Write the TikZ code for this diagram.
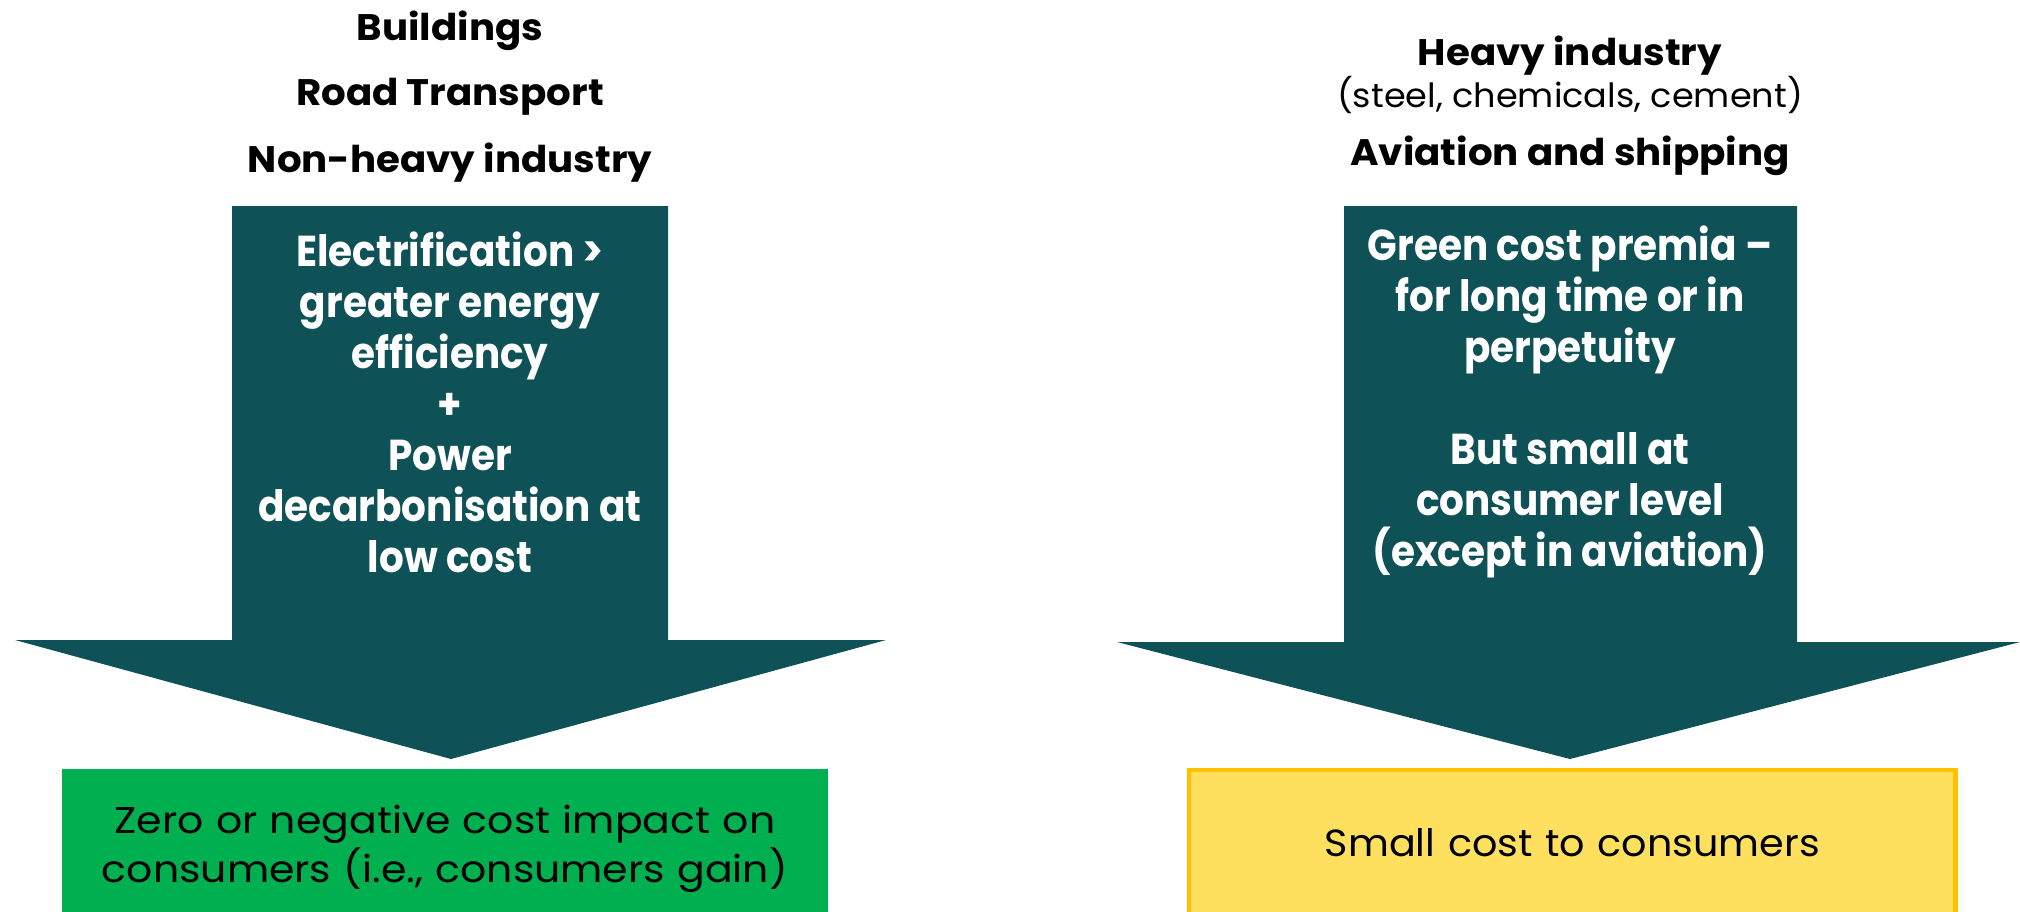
\documentclass[tikz,border=0pt]{standalone}
\usepackage{fontspec}
\setmainfont{Poppins}
\newfontfamily\widefont[FakeStretch=1.05]{Poppins}
\newfontfamily\boxfont[FakeStretch=1.1]{Poppins}
\newfontfamily\narrowfont[FakeStretch=0.9]{Poppins}
\usetikzlibrary{positioning}
\definecolor{arrowteal}{HTML}{0E5157}
\definecolor{gaingreen}{HTML}{00B050}
\definecolor{costyellow}{HTML}{FEDF5E}
\definecolor{costborder}{HTML}{FFC000}
\tikzset{
  sectortitle/.style = {anchor=base, inner sep=0pt,
    font=\widefont\bfseries\fontsize{10.5}{12}\selectfont},
  sectornote/.style = {anchor=base, inner sep=0pt,
    font=\widefont\fontsize{9.5}{11}\selectfont},
  arrowbody/.style = {fill=arrowteal, draw=none},
  arrowtext/.style = {align=center, text=white, inner sep=0pt,
    font=\narrowfont\bfseries\fontsize{12.3}{14.5}\selectfont},
  outcome/.style = {align=center, inner sep=0pt, anchor=north west,
    text width=7.66cm, font=\widefont\fontsize{10.75}{13.4}\selectfont}
}

\begin{document}
\begin{tikzpicture}[x=0.01cm, y=-0.01cm]
\useasboundingbox (0,0) rectangle (2020,911);
% sectors, left
\node [sectortitle] (bld) at (450,40) {Buildings};
\node [sectortitle] (road) at (450,105) {Road Transport};
\node [sectortitle] (nonheavy) at (450,172) {Non-heavy industry};
% sectors, right
\node [sectortitle] (heavy) at (1570,65) {Heavy industry};
\node [sectornote] (heavynote) at (1570,107) {(steel, chemicals, cement)};
\node [sectortitle] (avship) at (1570,165) {Aviation and shipping};
% block arrows
\fill [arrowbody] (232,206) -- (668,206) -- (668,640) -- (886,640)
  -- (451,759) -- (15,640) -- (232,640) -- cycle;
\fill [arrowbody] (1344,206) -- (1797,206) -- (1797,642) -- (2020,642)
  -- (1570,759) -- (1117,642) -- (1344,642) -- cycle;
\node [arrowtext] (electr) at (450,402) {Electrification >\\greater energy\\
  efficiency\\+\\Power\\decarbonisation at\\low cost};
\node [arrowtext] (premia) at (1570,402) {Green cost premia –\\for long time or in\\
  perpetuity\\[14.5pt]But small at\\consumer level\\(except in aviation)};
% outcomes
\node [outcome, fill=gaingreen, minimum height=1.6cm,
  font=\boxfont\fontsize{10.6}{13.8}\selectfont] (gain) at (61,768)
  {Zero or negative cost impact on\\consumers (i.e., consumers gain)};
\node [outcome, fill=costyellow, draw=costborder, line width=1.2pt,
  minimum height=1.46cm] (smallcost) at (1187,768) {Small cost to consumers};
\end{tikzpicture}
\end{document}
